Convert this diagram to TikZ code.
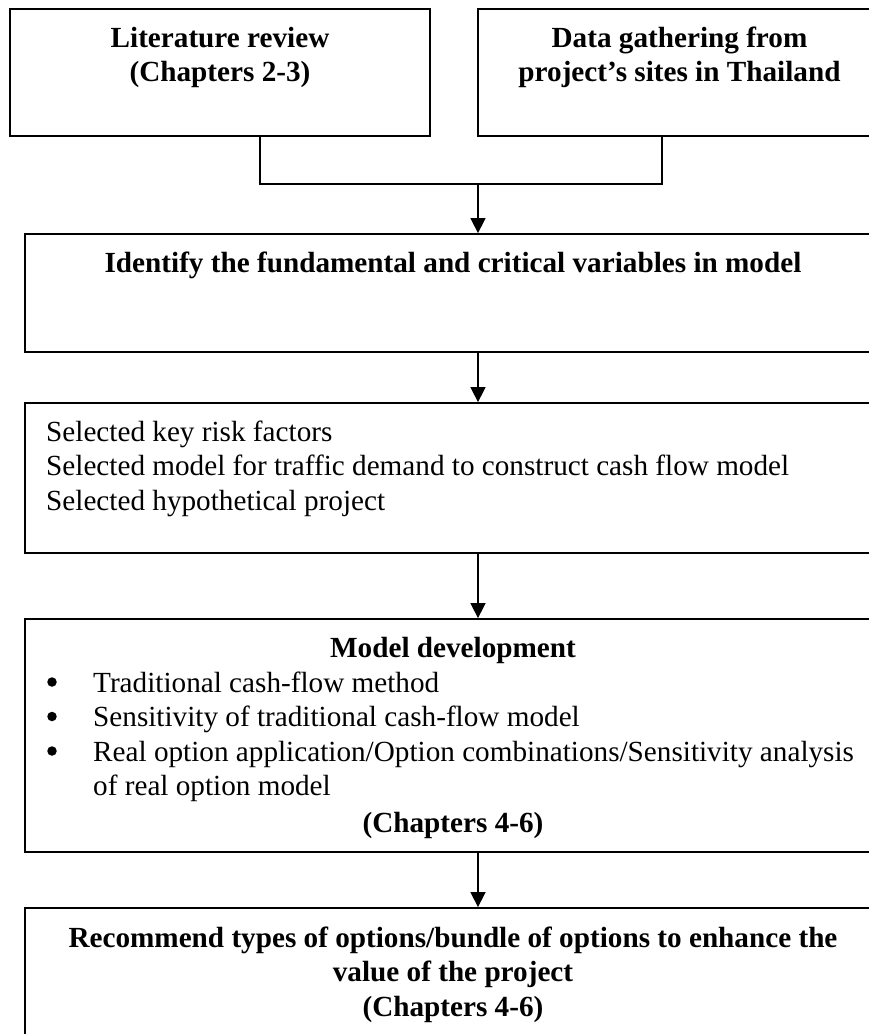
\documentclass[tikz,border=0pt]{standalone}
\usepackage{fontspec}
\setmainfont{Liberation Serif}
\usetikzlibrary{arrows.meta}

\begin{document}
\begin{tikzpicture}[x=1pt, y=-1pt,
  box/.style={draw, line width=1.8pt, rectangle, inner sep=0pt},
  txt/.style={inner sep=0pt, font=\fontsize{29.2}{34.5}\selectfont},
  btxt/.style={txt, font=\fontsize{29.2}{34.5}\selectfont\bfseries},
  dot/.style={circle, fill, inner sep=0pt, minimum size=9.5pt},
  link/.style={line width=1.5pt},
  flow/.style={line width=1.5pt, -{Triangle[length=15pt, width=15pt]}}]

\useasboundingbox (0,0) rectangle (869,1034);

% boxes (the wide ones run past the right and bottom edges)
\node[box, minimum width=420pt, minimum height=127pt] (lit)   at (220,72.5) {};
\node[box, minimum width=403pt, minimum height=127pt] (data)  at (679.5,72.5) {};
\node[box, minimum width=856pt, minimum height=118pt] (ident) at (453,293) {};
\node[box, minimum width=856pt, minimum height=150pt] (sel)   at (453,478) {};
\node[box, minimum width=856pt, minimum height=233pt] (dev)   at (453,735.5) {};
\node[box, minimum width=856pt, minimum height=152pt] (rec)   at (453,984) {};

% texts
\node[btxt, anchor=north, align=center] (tlit) at (220,22.85)
  {\strut Literature review\\(Chapters 2-3)};
\node[btxt, anchor=north, align=center] (tdata) at (679.5,22.85)
  {\strut Data gathering from\\project’s sites in Thailand};
\node[btxt, anchor=north, align=center] (tident) at (453,247.85)
  {\strut Identify the fundamental and critical variables in model};
\node[txt, anchor=north west, align=left] (tsel) at (46,416.85)
  {\strut Selected key risk factors\\
   Selected model for traffic demand to construct cash flow model\\
   Selected hypothetical project};
\node[btxt, anchor=north, align=center] (tdev) at (453,632.85)
  {\strut Model development};
\node[txt, anchor=north west, align=left] (tlist) at (93,667.85)
  {\strut Traditional cash-flow method\\
   Sensitivity of traditional cash-flow model\\
   Real option application/Option combinations/Sensitivity analysis\\
   of real option model};
\node[btxt, anchor=north, align=center] (tdevch) at (453,807.85)
  {\strut (Chapters 4-6)};
\node[btxt, anchor=north, align=center] (trec) at (453,922.85)
  {\strut Recommend types of options/bundle of options to enhance the\\
   value of the project\\(Chapters 4-6)};

% list bullets
\node[dot] (b1) at (52,682) {};
\node[dot] (b2) at (52,716.5) {};
\node[dot] (b3) at (52,751) {};

% connectors
\coordinate (jl) at (260,184);
\coordinate (jr) at (662,184);
\coordinate (jm) at (478,184);
\draw[link] (lit.south -| jl) -- (jl) -- (jr) -- (data.south -| jr);
\draw[flow] (jm) -- (ident.north -| jm);
\draw[flow] (ident.south -| jm) -- (sel.north -| jm);
\draw[flow] (sel.south -| jm) -- (dev.north -| jm);
\draw[flow] (dev.south -| jm) -- (rec.north -| jm);
\end{tikzpicture}
\end{document}
